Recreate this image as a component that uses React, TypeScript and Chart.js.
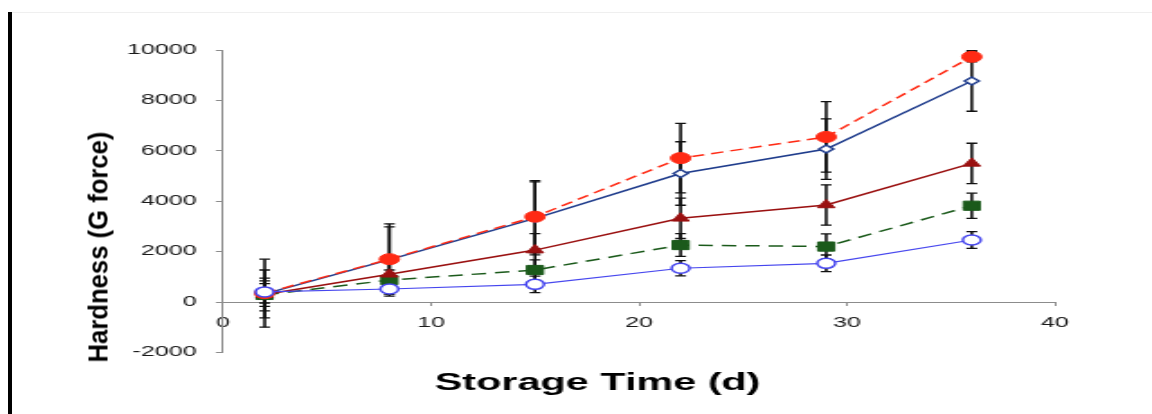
import React, { useEffect, useRef } from "react";
import { Chart, registerables } from "chart.js";

Chart.register(...registerables);

// ---- data ----
const days = [2, 8, 15, 22, 29, 36];

const redMeans = [350, 1700, 3385, 5710, 6550, 9730];
const redErr = [1350, 1400, 1430, 1380, 1400, 200];

const navyMeans = [320, 1680, 3320, 5100, 6070, 8770];
const navyErr = [950, 1300, 1450, 1260, 1200, 1200];

const darkRedMeans = [300, 1100, 2060, 3320, 3850, 5500];
const darkRedErr = [650, 500, 650, 800, 800, 800];

const greenMeans = [280, 870, 1270, 2260, 2200, 3820];
const greenErr = [450, 400, 400, 450, 500, 500];

const blueMeans = [400, 516, 700, 1340, 1535, 2460];
const blueErr = [440, 280, 330, 300, 330, 330];

const xTickValues = [0, 10, 20, 30, 40];
const yTickValues = [-2000, 0, 2000, 4000, 6000, 8000, 10000];

const xTitle = "Storage Time (d)";
const yTitle = "Hardness (G force)";

// ---- drawing setup ----
const STRETCH = 1.8; // the reference picture is stretched horizontally
const PAGE_W = 1152;
const PAGE_H = 414;
const CANVAS_W = PAGE_W / STRETCH;

const FONT = '"Liberation Sans", Arial, Helvetica, sans-serif';

const toPoints = (means: number[]) => means.map((v, i) => ({ x: days[i], y: v }));

const errorBarPlugin = {
  id: "errorBars",
  afterLayout(chart: any) {
    // let the y tick labels use the room left of the axis box (no clipping)
    const ys = chart.scales.y;
    if (ys) ys.left = 0;
  },
  beforeDatasetsDraw(chart: any) {
    const { ctx } = chart;
    const xs = chart.scales.x;
    const ys = chart.scales.y;
    ctx.save();
    ctx.strokeStyle = "#111111";
    chart.data.datasets.forEach((ds: any) => {
      const errs: number[] = ds.errorBars || [];
      ds.data.forEach((p: any, j: number) => {
        const e = errs[j];
        if (e == null) return;
        const x = xs.getPixelForValue(p.x);
        const top = ys.getPixelForValue(p.y + e);
        const bot = ys.getPixelForValue(p.y - e);
        ctx.lineWidth = 1.6;
        ctx.beginPath();
        ctx.moveTo(x, top);
        ctx.lineTo(x, bot);
        ctx.stroke();
        ctx.lineWidth = 1.3;
        ctx.beginPath();
        ctx.moveTo(x - 3, top);
        ctx.lineTo(x + 3, top);
        ctx.moveTo(x - 3, bot);
        ctx.lineTo(x + 3, bot);
        ctx.stroke();
      });
    });
    ctx.restore();
  },
};

export default function App() {
  const canvasRef = useRef<HTMLCanvasElement | null>(null);

  useEffect(() => {
    const canvas = canvasRef.current;
    if (!canvas) return;

    const red = "#ff2a14";
    const navy = "#1f3c8c";
    const darkRed = "#9a1010";
    const green = "#1b5a1b";
    const blue = "#4646ee";

    const chart = new Chart(canvas, {
      type: "line",
      data: {
        datasets: [
          {
            label: "Series 1",
            data: toPoints(redMeans),
            errorBars: redErr,
            order: 1,
            borderColor: red,
            backgroundColor: red,
            borderWidth: 1.5,
            borderDash: [7, 4],
            pointStyle: "circle",
            pointRadius: 5.5,
            pointBackgroundColor: red,
            pointBorderColor: red,
            pointBorderWidth: 1,
            tension: 0,
          },
          {
            label: "Series 2",
            data: toPoints(navyMeans),
            errorBars: navyErr,
            order: 2,
            borderColor: navy,
            backgroundColor: "#ffffff",
            borderWidth: 1.5,
            pointStyle: "rectRot",
            pointRadius: 4,
            pointBackgroundColor: "#ffffff",
            pointBorderColor: navy,
            pointBorderWidth: 1.5,
            tension: 0,
          },
          {
            label: "Series 3",
            data: toPoints(darkRedMeans),
            errorBars: darkRedErr,
            order: 3,
            borderColor: darkRed,
            backgroundColor: darkRed,
            borderWidth: 1.5,
            pointStyle: "triangle",
            pointRadius: 5.5,
            pointBackgroundColor: darkRed,
            pointBorderColor: darkRed,
            pointBorderWidth: 1,
            tension: 0,
          },
          {
            label: "Series 4",
            data: toPoints(greenMeans),
            errorBars: greenErr,
            order: 4,
            borderColor: green,
            backgroundColor: green,
            borderWidth: 1.5,
            borderDash: [8, 5],
            pointStyle: "rect",
            pointRadius: 6.5,
            pointBackgroundColor: green,
            pointBorderColor: green,
            pointBorderWidth: 1,
            tension: 0,
          },
          {
            label: "Series 5",
            data: toPoints(blueMeans),
            errorBars: blueErr,
            order: 0,
            borderColor: blue,
            backgroundColor: "#ffffff",
            borderWidth: 1.2,
            pointStyle: "circle",
            pointRadius: 5,
            pointBackgroundColor: "#ffffff",
            pointBorderColor: blue,
            pointBorderWidth: 1.5,
            tension: 0,
          },
        ] as any,
      },
      options: {
        animation: false,
        responsive: false,
        devicePixelRatio: 1,
        events: [],
        layout: { padding: { left: 77.9, right: 53.9, top: 50, bottom: 17 } },
        plugins: {
          legend: { display: false },
          tooltip: { enabled: false },
          title: {
            display: true,
            position: "bottom",
            text: xTitle,
            color: "#000000",
            font: { family: FONT, size: 23, weight: "bold", lineHeight: 1.2 },
            padding: { top: 17, bottom: 0 },
          },
        },
        scales: {
          x: {
            type: "linear",
            min: 0,
            max: 40,
            position: { y: 0 } as any,
            afterBuildTicks: (s: any) => {
              s.ticks = xTickValues.map((v) => ({ value: v }));
            },
            ticks: {
              color: "#1a1a1a",
              font: { family: FONT, size: 14 },
              padding: 10,
              maxRotation: 0,
              autoSkip: false,
              callback: (v: any) => String(v),
            },
            grid: {
              drawOnChartArea: false,
              drawTicks: true,
              tickLength: 3,
              color: "#8c8c8c",
            },
            border: { display: true, color: "#8c8c8c", width: 1 },
          },
          y: {
            type: "linear",
            min: -2000,
            max: 10000,
            afterBuildTicks: (s: any) => {
              s.ticks = yTickValues.map((v) => ({ value: v }));
            },
            afterFit: (s: any) => {
              s.width = 46;
            },
            ticks: {
              color: "#1a1a1a",
              font: { family: FONT, size: 14 },
              padding: 10.5,
              autoSkip: false,
              callback: (v: any) => String(v),
            },
            grid: {
              drawOnChartArea: false,
              drawTicks: true,
              tickLength: 4,
              color: "#8c8c8c",
            },
            border: { display: true, color: "#8c8c8c", width: 1 },
          },
        },
      } as any,
      plugins: [errorBarPlugin],
    });

    return () => chart.destroy();
  }, []);

  return (
    <div
      style={{
        position: "absolute",
        left: 0,
        top: 0,
        width: PAGE_W,
        height: PAGE_H,
        background: "#ffffff",
        overflow: "hidden",
      }}
    >
      <div
        style={{
          position: "absolute",
          left: 11,
          top: 12,
          width: PAGE_W - 11,
          height: 1,
          background: "#efefef",
        }}
      />
      <div
        style={{
          position: "absolute",
          left: 8,
          top: 12,
          width: 4,
          height: PAGE_H - 12,
          background: "#000000",
        }}
      />
      <canvas
        ref={canvasRef}
        width={CANVAS_W}
        height={PAGE_H}
        style={{
          position: "absolute",
          left: 0,
          top: 0,
          width: PAGE_W + "px",
          height: PAGE_H + "px",
        }}
      />
      <div
        style={{
          position: "absolute",
          left: 99,
          top: 247,
          transform: "translate(-50%, -50%) rotate(-90deg) scaleX(0.95)",
          whiteSpace: "nowrap",
          font: `bold 27px ${FONT}`,
          lineHeight: 1,
          color: "#000000",
        }}
      >
        {yTitle}
      </div>
    </div>
  );
}
